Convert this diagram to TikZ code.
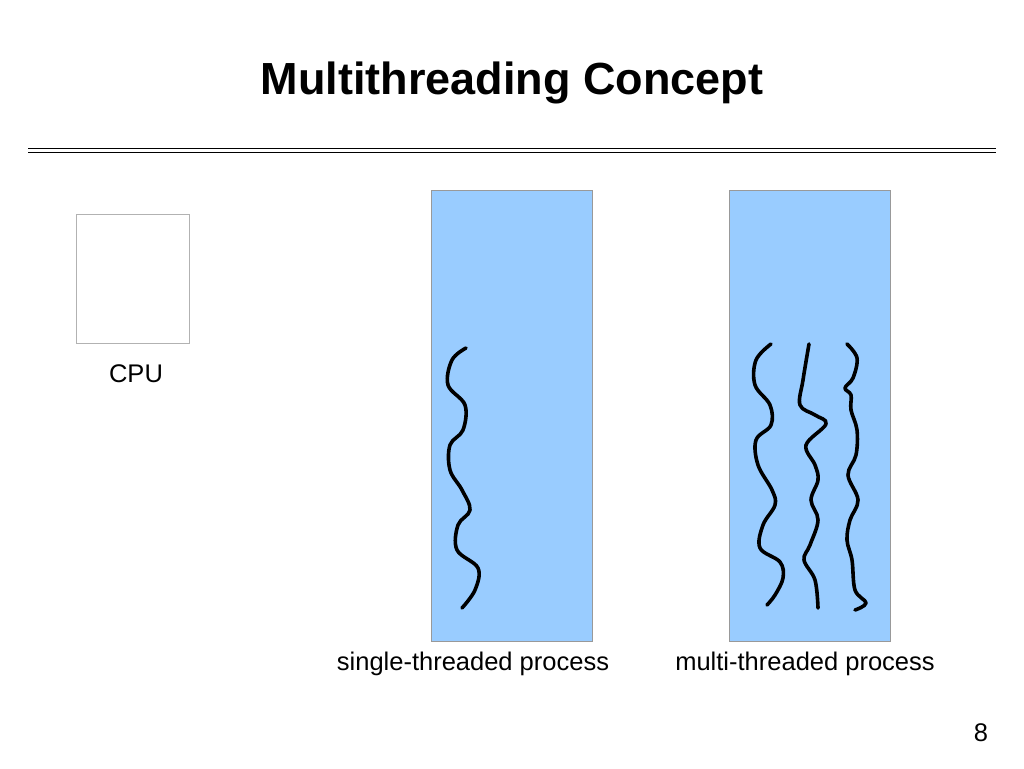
\documentclass[tikz,border=0pt]{standalone}
\usepackage{fontspec}
\setmainfont{Liberation Sans}
\begin{document}
\begin{tikzpicture}[x=1pt,y=-1pt,
  lbl/.style={font=\fontsize{25.5}{28}\selectfont, text=black},
  proc/.style={draw=gray!80, fill=procblue, line width=0.6pt},
  thr/.style={line width=3.6pt, line cap=round, line join=round}]
\definecolor{procblue}{HTML}{99CCFF}
\useasboundingbox (0,0) rectangle (1024,768);
\node[font=\bfseries\fontsize{45}{48}\selectfont] (title) at (512,83) {Multithreading Concept};
\coordinate (l1a) at (28,148); \coordinate (l1b) at (996,148);
\coordinate (l2a) at (28,152); \coordinate (l2b) at (996,152);
\draw[line width=1pt] (l1a) -- (l1b);
\draw[line width=1pt] (l2a) -- (l2b);
\node[draw=gray!60, minimum width=113pt, minimum height=129pt, inner sep=0pt, line width=0.8pt] (cpu) at (132.5,278.5) {};
\node[lbl] (cpulbl) at (136,374) {CPU};
\node[proc, minimum width=161pt, minimum height=451pt, inner sep=0pt] (p1) at (511.5,415.5) {};
\node[proc, minimum width=161pt, minimum height=451pt, inner sep=0pt] (p2) at (809.5,415.5) {};
\node[lbl] (l1) at (473,664) {single-threaded process};
\node[lbl] (l2) at (805,664) {multi-threaded process};
\node[lbl] (pg) at (981,733) {8};
\draw[thr] plot[smooth, tension=0.6] coordinates {(466,348) (452,360) (448,385) (465,405) (463,430) (450,445) (450,470) (462,490) (470,510) (458,525) (457,550) (478,568) (475,590) (462,608)};
\draw[thr] plot[smooth, tension=0.6] coordinates {(771,344) (756,360) (755,385) (770,405) (771,425) (756,440) (758,465) (772,490) (775,505) (763,525) (760,548) (780,562) (783,578) (775,595) (767,605)};
\draw[thr] plot[smooth, tension=0.6] coordinates {(809,344) (803,380) (800,405) (815,415) (826,424) (806,445) (815,465) (818,480) (811,500) (818,520) (810,545) (804,560) (815,580) (818,608)};
\draw[thr] plot[smooth, tension=0.6] coordinates {(847,344) (857,358) (853,378) (845,388) (851,395) (851,410) (857,430) (856,455) (848,475) (858,500) (850,520) (847,540) (852,560) (855,590) (866,603) (855,610)};
\end{tikzpicture}
\end{document}
